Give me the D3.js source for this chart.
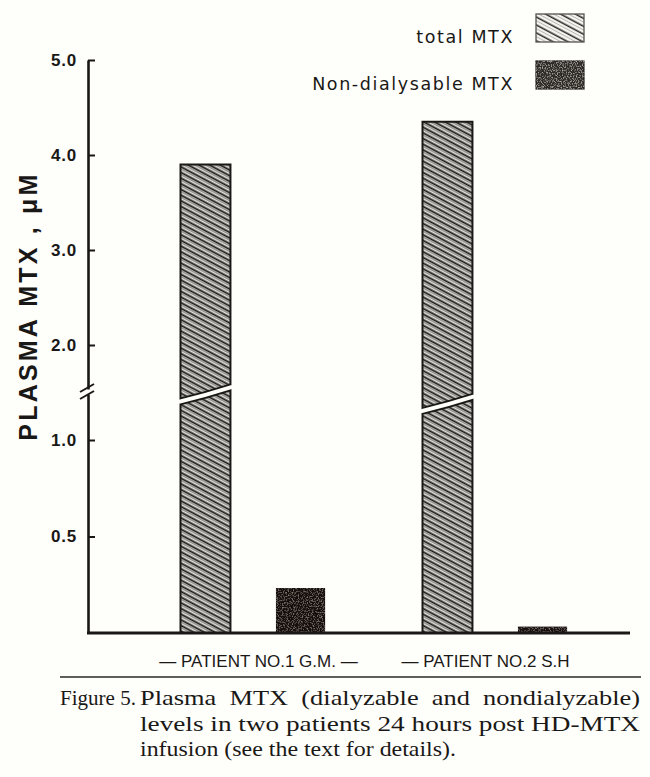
<!DOCTYPE html>
<html>
<head>
<meta charset="utf-8">
<script src="https://cdn.jsdelivr.net/npm/d3@7"></script>
<style>
  body { margin: 0; background: #fefefb; }
  svg { display: block; }
</style>
</head>
<body>
<div id="container"></div>
<script>

// data
var patients = ["PATIENT NO.1 G.M.", "PATIENT NO.2 S.H"];
var patientLabels = ["\u2014 PATIENT NO.1 G.M. \u2014", "\u2014 PATIENT NO.2 S.H"];
var series = ["total MTX", "Non-dialysable MTX"];
var totalMTX = [3.9, 4.35];
var nonDialysableMTX = [0.23, 0.03];
var breakAt = [1.48, 1.38];          // where the tall bars are broken
var tickValues = [0.5, 1.0, 2.0, 3.0, 4.0, 5.0];
var tickLabels = ["0.5", "1.0", "2.0", "3.0", "4.0", "5.0"];
var captionLines = [
    "Plasma  MTX  (dialyzable  and  nondialyzable)",
    "levels in two patients 24 hours post HD-MTX",
    "infusion (see the text for details)."
];

var width = 650,
    height = 777;

var svg = d3.select("#container").append("svg")
    .attr("width", width)
    .attr("height", height);

svg.append("rect")
    .attr("width", width)
    .attr("height", height)
    .attr("fill", "#fefefb");

var defs = svg.append("defs");

// diagonal hatch, alternating dark and grey strokes
var hatch = defs.append("pattern")
    .attr("id", "hatch")
    .attr("patternUnits", "userSpaceOnUse")
    .attr("width", 12)
    .attr("height", 5)
    .attr("patternTransform", "rotate(28)");
hatch.append("rect").attr("width", 12).attr("height", 5).attr("fill", "#fbfbf6");
hatch.append("rect").attr("y", 0.4).attr("width", 12).attr("height", 2.0).attr("fill", "#1a1816");
hatch.append("rect").attr("y", 3.1).attr("width", 12).attr("height", 1.1).attr("fill", "#8a8884");

var hatchBig = defs.append("pattern")
    .attr("id", "hatchBig")
    .attr("patternUnits", "userSpaceOnUse")
    .attr("width", 12)
    .attr("height", 7)
    .attr("patternTransform", "rotate(28)");
hatchBig.append("rect").attr("width", 12).attr("height", 7).attr("fill", "#fbfbf6");
hatchBig.append("rect").attr("y", 0.5).attr("width", 12).attr("height", 1.6).attr("fill", "#2a2826");
hatchBig.append("rect").attr("y", 4.2).attr("width", 12).attr("height", 0.9).attr("fill", "#aaa8a3");

// faint specks on the dark fill
function speckle(id, r, g, b)
{
    var f = defs.append("filter").attr("id", id);
    f.append("feTurbulence")
        .attr("type", "fractalNoise")
        .attr("baseFrequency", 0.8)
        .attr("numOctaves", 2)
        .attr("seed", 3)
        .attr("result", "n");
    f.append("feColorMatrix")
        .attr("in", "n")
        .attr("type", "matrix")
        .attr("values", "0 0 0 0 " + r + "  0 0 0 0 " + g + "  0 0 0 0 " + b + "  0 0 0 -3 1.55")
        .attr("result", "dots");
    f.append("feComposite")
        .attr("in", "dots")
        .attr("in2", "SourceGraphic")
        .attr("operator", "in")
        .attr("result", "clip");
    f.append("feMerge").call(function (m)
    {
        m.append("feMergeNode").attr("in", "SourceGraphic");
        m.append("feMergeNode").attr("in", "clip");
    });
}
speckle("speckle", 0.22, 0.19, 0.16);
speckle("speckleLight", 0.45, 0.43, 0.40);

// broken y axis: lower part 0..1 is stretched
var y = d3.scaleLinear()
    .domain([0, 1, 5])
    .range([633, 440, 60]);

var x0 = d3.scalePoint()
    .domain(patients)
    .range([253.5, 495.5]);

var x1 = d3.scaleBand()
    .domain(series)
    .range([-73, 73])
    .paddingInner(0.48);

var axisX = 88;

// y axis
var yAxis = svg.append("g")
    .attr("transform", "translate(" + axisX + ",0)")
    .call(d3.axisLeft(y)
        .tickValues(tickValues)
        .tickFormat(function (d, i) { return tickLabels[i]; })
        .tickSizeInner(-7)
        .tickSizeOuter(0)
        .tickPadding(11));

yAxis.select(".domain")
    .attr("stroke", "#1a1816")
    .attr("stroke-width", 2.6);
yAxis.selectAll(".tick line")
    .attr("stroke", "#1a1816")
    .attr("stroke-width", 2);
yAxis.selectAll(".tick text")
    .attr("fill", "#1a1816")
    .style("font-family", "'Liberation Sans', Arial, sans-serif")
    .style("font-weight", "bold")
    .style("font-size", "17px")
    .style("letter-spacing", "0.8px");

// axis break marks
var yb = (y(1) + y(2)) / 2 - 1;
svg.append("rect")
    .attr("x", axisX - 3)
    .attr("y", yb - 2)
    .attr("width", 6)
    .attr("height", 5)
    .attr("fill", "#fefefb");
[-3.5, 3.5].forEach(function (o)
{
    svg.append("line")
        .attr("x1", axisX - 8).attr("y1", yb + o + 4)
        .attr("x2", axisX + 6).attr("y2", yb + o - 4)
        .attr("stroke", "#1a1816")
        .attr("stroke-width", 2);
});

// y label
svg.append("text")
    .attr("transform", "translate(37,306) rotate(-90)")
    .attr("text-anchor", "middle")
    .attr("fill", "#1a1816")
    .style("font-family", "'Liberation Sans', Arial, sans-serif")
    .style("font-weight", "bold")
    .style("font-size", "25px")
    .style("letter-spacing", "3.2px")
    .text("PLASMA MTX , \u03bcM");

// bars
var groups = svg.selectAll("g.patient")
    .data(patients)
    .enter()
    .append("g")
    .attr("class", "patient")
    .attr("transform", function (d) { return "translate(" + x0(d) + ",0)"; });

var bw = x1.bandwidth();

// tall hatched bars, drawn in two pieces around the break
groups.each(function (d, i)
{
    var g = d3.select(this);
    var left = x1(series[0]);
    var right = left + bw;
    var top = y(totalMTX[i]);
    var bottom = y(0);
    var mid = y(breakAt[i]);
    var slant = 7, gap = 3;

    var upper = "M" + left + "," + top +
        "L" + right + "," + top +
        "L" + right + "," + (mid - slant - gap) +
        "Q" + (left + bw * 0.5) + "," + (mid - gap + 1) + " " + left + "," + (mid + slant - gap) + "Z";
    var lower = "M" + left + "," + bottom +
        "L" + left + "," + (mid + slant + gap) +
        "Q" + (left + bw * 0.5) + "," + (mid + gap + 1) + " " + right + "," + (mid - slant + gap) +
        "L" + right + "," + bottom + "Z";

    [upper, lower].forEach(function (p)
    {
        g.append("path")
            .attr("d", p)
            .attr("fill", "url(#hatch)")
            .attr("stroke", "#1a1816")
            .attr("stroke-width", 2)
            .attr("stroke-linejoin", "miter");
    });

    g.append("rect")
        .attr("x", x1(series[1]))
        .attr("y", y(nonDialysableMTX[i]))
        .attr("width", bw - 2)
        .attr("height", y(0) - y(nonDialysableMTX[i]))
        .attr("fill", "#15110e")
        .attr("stroke", "#15110e")
        .attr("stroke-width", 1.2)
        .attr("filter", "url(#speckle)");
});

// baseline
svg.append("line")
    .attr("x1", axisX - 1)
    .attr("x2", 630)
    .attr("y1", y(0))
    .attr("y2", y(0))
    .attr("stroke", "#1a1816")
    .attr("stroke-width", 3);

// patient labels
svg.selectAll("text.patient")
    .data(patients)
    .enter()
    .append("text")
    .attr("class", "patient")
    .attr("x", function (d, i) { return x0(d) + (i === 0 ? 5 : -10); })
    .attr("y", 667)
    .attr("text-anchor", "middle")
    .attr("fill", "#1a1816")
    .style("font-family", "'Liberation Sans', Arial, sans-serif")
    .style("font-size", "17px")
    .text(function (d, i) { return patientLabels[i]; });

// legend
var legendY = [43, 90];
var legendFill = ["url(#hatchBig)", "#2e2a26"];
series.forEach(function (s, i)
{
    svg.append("text")
        .attr("x", 514)
        .attr("y", legendY[i])
        .attr("text-anchor", "end")
        .attr("fill", "#1a1816")
        .style("font-family", "'DejaVu Sans', sans-serif")
        .style("font-size", "17.5px")
        .style("letter-spacing", "1.6px")
        .text(s);

    svg.append("rect")
        .attr("x", 536)
        .attr("y", legendY[i] - 29)
        .attr("width", 48)
        .attr("height", 28)
        .attr("fill", legendFill[i])
        .attr("stroke", i === 0 ? "#55534f" : "#2a2826")
        .attr("stroke-width", 1.3)
        .attr("filter", i === 1 ? "url(#speckleLight)" : null);
});

// rule and caption
svg.append("line")
    .attr("x1", 60)
    .attr("x2", 641)
    .attr("y1", 677)
    .attr("y2", 677)
    .attr("stroke", "#2a2826")
    .attr("stroke-width", 1.6);

var caption = svg.append("g")
    .attr("fill", "#1a1816")
    .style("font-family", "'Liberation Serif', 'Times New Roman', serif")
    .style("font-size", "21px");

caption.append("text")
    .attr("x", 60)
    .attr("y", 705)
    .attr("textLength", 76)
    .attr("lengthAdjust", "spacingAndGlyphs")
    .text("Figure 5.");

var captionLength = [500, 500, 316];
caption.selectAll("text.line")
    .data(captionLines)
    .enter()
    .append("text")
    .attr("class", "line")
    .attr("x", 140)
    .attr("y", function (d, i) { return 705 + i * 25.5; })
    .attr("textLength", function (d, i) { return captionLength[i]; })
    .attr("lengthAdjust", "spacingAndGlyphs")
    .style("white-space", "pre")
    .text(function (d) { return d; });

</script>
</body>
</html>
